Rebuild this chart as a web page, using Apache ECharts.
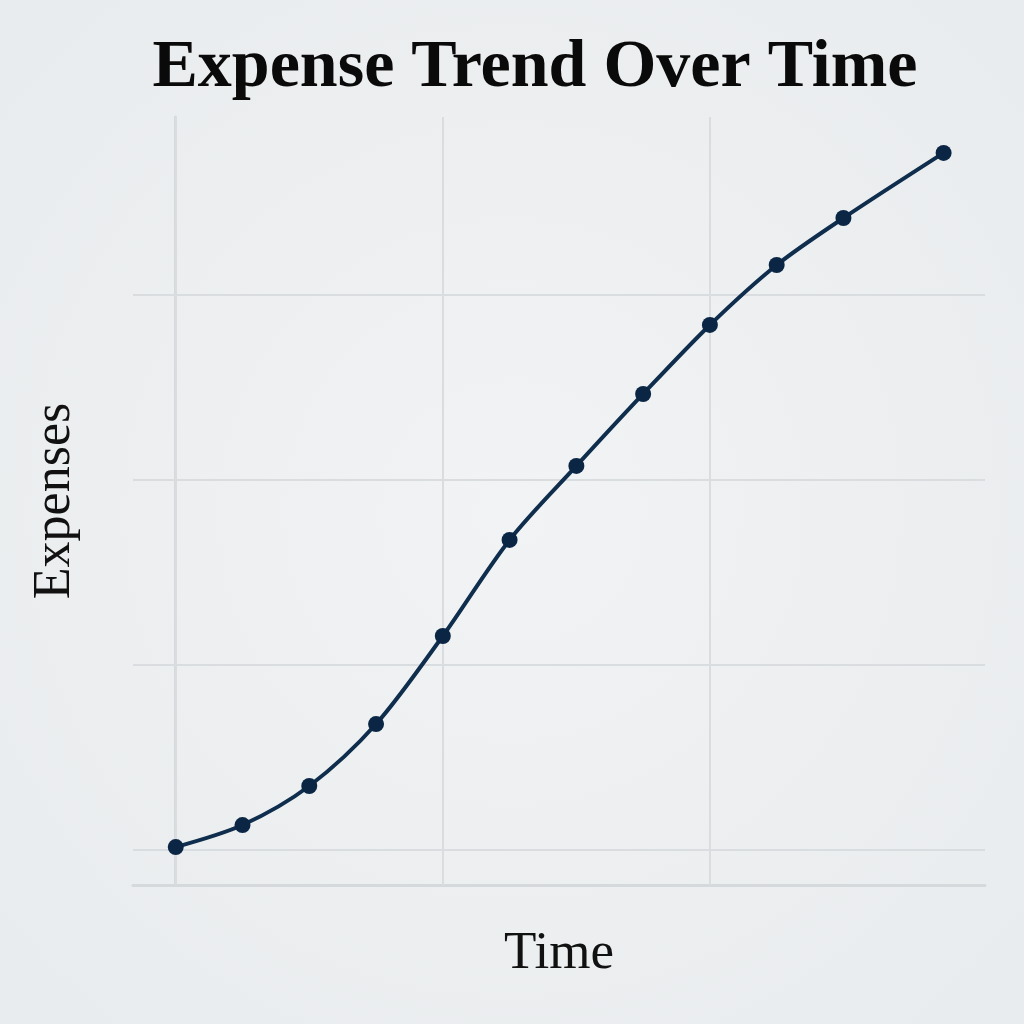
<!DOCTYPE html>
<html>
<head>
<meta charset="utf-8">
<script src="https://cdn.jsdelivr.net/npm/echarts@6/dist/echarts.min.js"></script>
<style>html,body{margin:0;padding:0;}#c{width:1024px;height:1024px;}</style>
</head>
<body>
<div id="c"></div>
<script>
var timeIdx = [0, 1, 2, 3, 4, 5, 6, 7, 8, 9, 10, 11.5];
var expenses = [10.16, 11.35, 13.46, 16.81, 21.57, 26.76, 30.76, 34.65, 38.38, 41.62, 44.16, 47.68];
var xGridValues = [0, 4, 8];
var yGridValues = [10, 20, 30, 40];
var titleText = 'Expense Trend Over Time';
var xName = 'Time';
var yName = 'Expenses';

var chart = echarts.init(document.getElementById('c'));
var serif = '"Liberation Serif", "DejaVu Serif", serif';
var gridLines = xGridValues.map(function (v) { return { xAxis: v }; })
  .concat(yGridValues.map(function (v) { return { yAxis: v }; }));

chart.setOption({
  backgroundColor: {
    type: 'radial', x: 0.5, y: 0.5, r: 0.75,
    colorStops: [{ offset: 0, color: '#f1f3f4' }, { offset: 1, color: '#e8ebed' }]
  },
  graphic: [{
    type: 'text', x: 535, y: 34, z: 10,
    style: {
      text: titleText, align: 'center', verticalAlign: 'top',
      font: 'bold 68px ' + serif, fill: '#0a0a0a'
    }
  }],
  grid: { left: 133, right: 39, top: 117, bottom: 139 },
  xAxis: {
    type: 'value', min: -0.64, max: 12.12,
    name: xName, nameLocation: 'middle', nameGap: 43,
    nameTextStyle: { fontFamily: serif, fontSize: 53, color: '#111' },
    axisLine: { show: true, lineStyle: { color: '#d5d9dc', width: 3 } },
    axisTick: { show: false }, axisLabel: { show: false }, splitLine: { show: false }
  },
  yAxis: {
    type: 'value', min: 8.11, max: 49.62,
    name: yName, nameLocation: 'middle', nameGap: 52, nameRotate: 90,
    nameTextStyle: { fontFamily: serif, fontSize: 52, color: '#111' },
    axisLine: { show: true, lineStyle: { color: '#d5d9dc', width: 3 } },
    axisTick: { show: false }, axisLabel: { show: false }, splitLine: { show: false }
  },
  series: [{
    type: 'line',
    data: timeIdx.map(function (t, i) { return [t, expenses[i]]; }),
    smooth: 0.3,
    symbol: 'circle', symbolSize: 16,
    lineStyle: { color: '#0f2d4c', width: 4 },
    itemStyle: { color: '#0b2645' },
    z: 5,
    markLine: {
      silent: true, symbol: ['none', 'none'], label: { show: false },
      lineStyle: { color: '#d9dde0', width: 2, type: 'solid' },
      data: gridLines, z: 1
    }
  }]
});
</script>
</body>
</html>
